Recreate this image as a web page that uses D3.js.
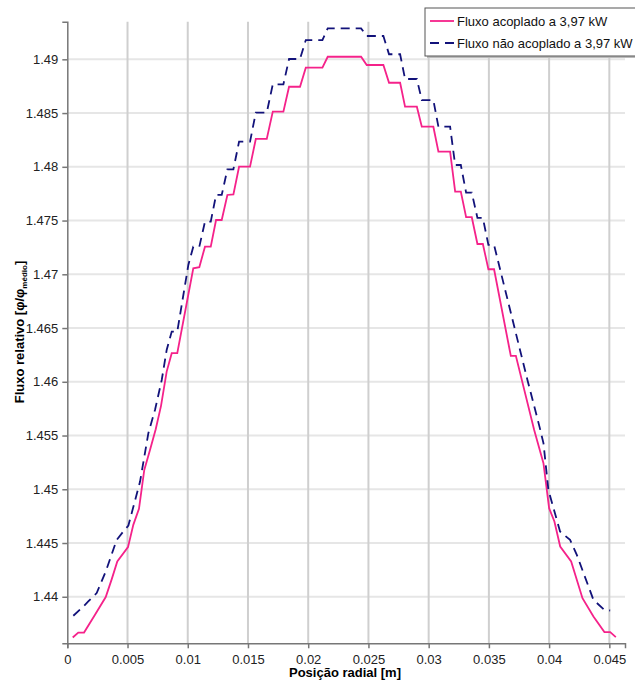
<!DOCTYPE html>
<html>
<head>
<meta charset="utf-8">
<script src="https://cdn.jsdelivr.net/npm/d3@7"></script>
<style>
  body { margin: 0; background: #fff; }
  svg { font-family: "Liberation Sans", Arial, sans-serif; }
</style>
</head>
<body>
<svg id="chart" width="635" height="680"></svg>
<script>
// posição radial [m] e fluxo relativo
var acopladoX = [0.00045, 0.00091, 0.00139, 0.00230, 0.00319, 0.00369, 0.00415, 0.00504, 0.00548, 0.00595,
  0.00639, 0.00687, 0.00734, 0.00778, 0.00825, 0.00867, 0.00913, 0.01046, 0.01096, 0.01143,
  0.01191, 0.01235, 0.01282, 0.01329, 0.01379, 0.01426, 0.01517, 0.01565, 0.01656, 0.01706,
  0.01794, 0.01841, 0.01932, 0.01980, 0.02118, 0.02162, 0.02439, 0.02486, 0.02624, 0.02671,
  0.02763, 0.02804, 0.02902, 0.02943, 0.03039, 0.03081, 0.03178, 0.03220, 0.03267, 0.03311,
  0.03358, 0.03405, 0.03450, 0.03496, 0.03543, 0.03682, 0.03724, 0.03876, 0.03953, 0.04000,
  0.04044, 0.04092, 0.04183, 0.04277, 0.04368, 0.04459, 0.04507, 0.04554]
var acopladoY = [1.43621, 1.43667, 1.43667, 1.43832, 1.43997, 1.44164, 1.44328, 1.44462, 1.44669, 1.44818,
  1.45180, 1.45367, 1.45559, 1.45776, 1.46095, 1.46266, 1.46266, 1.47056, 1.47066, 1.47257,
  1.47257, 1.47505, 1.47505, 1.47738, 1.47744, 1.48001, 1.48001, 1.48259, 1.48259, 1.48513,
  1.48513, 1.48745, 1.48745, 1.48922, 1.48922, 1.49024, 1.49024, 1.48947, 1.48947, 1.48782,
  1.48782, 1.48559, 1.48559, 1.48373, 1.48373, 1.48141, 1.48141, 1.47769, 1.47769, 1.47531,
  1.47531, 1.47282, 1.47282, 1.47047, 1.47047, 1.46241, 1.46241, 1.45552, 1.45243, 1.44824,
  1.44700, 1.44467, 1.44328, 1.43987, 1.43816, 1.43671, 1.43671, 1.43625]

var naoAcopladoX = [0.00050, 0.00133, 0.00174, 0.00244, 0.00319, 0.00410, 0.00465, 0.00507, 0.00604, 0.00673,
  0.00728, 0.00784, 0.00825, 0.00867, 0.00913, 0.01005, 0.01046, 0.01096, 0.01143, 0.01191,
  0.01235, 0.01282, 0.01329, 0.01379, 0.01426, 0.01517, 0.01565, 0.01656, 0.01706, 0.01794,
  0.01841, 0.01932, 0.01980, 0.02118, 0.02162, 0.02439, 0.02486, 0.02624, 0.02671, 0.02763,
  0.02804, 0.02902, 0.02943, 0.03039, 0.03081, 0.03178, 0.03220, 0.03267, 0.03311, 0.03358,
  0.03405, 0.03450, 0.03496, 0.03543, 0.03820, 0.03920, 0.03953, 0.03994, 0.04091, 0.04174,
  0.04230, 0.04368, 0.04459, 0.04507]
var naoAcopladoY = [1.43823, 1.43909, 1.43956, 1.44034, 1.44235, 1.44529, 1.44607, 1.44662, 1.45072, 1.45522,
  1.45738, 1.46017, 1.46296, 1.46467, 1.46467, 1.47087, 1.47257, 1.47257, 1.47490, 1.47490,
  1.47738, 1.47738, 1.47977, 1.47977, 1.48234, 1.48234, 1.48505, 1.48505, 1.48767, 1.48767,
  1.49003, 1.49003, 1.49179, 1.49179, 1.49288, 1.49288, 1.49217, 1.49217, 1.49047, 1.49047,
  1.48817, 1.48817, 1.48621, 1.48621, 1.48373, 1.48373, 1.48017, 1.48017, 1.47759, 1.47759,
  1.47524, 1.47524, 1.47273, 1.47273, 1.46017, 1.45583, 1.45429, 1.44994, 1.44607, 1.44529,
  1.44390, 1.43971, 1.43878, 1.43872]

var xTicks = [0, 0.005, 0.01, 0.015, 0.02, 0.025, 0.03, 0.035, 0.04, 0.045]
var yTicks = [1.44, 1.445, 1.45, 1.455, 1.46, 1.465, 1.47, 1.475, 1.48, 1.485, 1.49]
var seriesNames = ['Fluxo acoplado a 3,97 kW', 'Fluxo não acoplado a 3,97 kW']

var svg = d3.select('#chart')
var plotLeft = 67.3, plotRight = 625, plotTop = 21.7, plotBottom = 643.3

var x = d3.scaleLinear().domain([0, 0.0463]).range([plotLeft, plotRight])
var y = d3.scaleLinear().domain([1.43567, 1.4935]).range([plotBottom, plotTop])

var fmt = function (d) { return String(+d.toFixed(3)) }

// grade
svg.append('g').selectAll('line').data(yTicks).enter().append('line')
  .attr('x1', plotLeft).attr('x2', plotRight)
  .attr('y1', function (d) { return y(d) }).attr('y2', function (d) { return y(d) })
  .attr('stroke', '#e6e6e6').attr('stroke-width', 2)

svg.append('g').selectAll('line').data(xTicks.slice(1)).enter().append('line')
  .attr('x1', function (d) { return x(d) }).attr('x2', function (d) { return x(d) })
  .attr('y1', plotTop).attr('y2', plotBottom)
  .attr('stroke', '#cfcfcf').attr('stroke-width', 2)

// eixos
var xAxis = svg.append('g').attr('transform', 'translate(0,' + plotBottom + ')')
  .call(d3.axisBottom(x).tickValues(xTicks).tickFormat(fmt).tickSize(5).tickPadding(6))
var yAxis = svg.append('g').attr('transform', 'translate(' + plotLeft + ',0)')
  .call(d3.axisLeft(y).tickValues(yTicks).tickFormat(fmt).tickSize(5).tickPadding(4))

;[xAxis, yAxis].forEach(function (a) {
  a.select('.domain').attr('stroke', '#777').attr('stroke-width', 1.5)
  a.selectAll('.tick line').attr('stroke', '#777').attr('stroke-width', 1.5)
  a.selectAll('.tick text').attr('fill', '#222').style('font-size', '13px')
    .style('font-family', '"Liberation Sans", Arial, sans-serif')
})

// curvas
var line = d3.line()
  .x(function (d) { return x(d[0]) })
  .y(function (d) { return y(d[1]) })

svg.append('path')
  .datum(d3.zip(acopladoX, acopladoY))
  .attr('d', line)
  .attr('fill', 'none').attr('stroke', '#f5228a').attr('stroke-width', 1.8)

svg.append('path')
  .datum(d3.zip(naoAcopladoX, naoAcopladoY))
  .attr('d', line)
  .attr('fill', 'none').attr('stroke', '#12127a').attr('stroke-width', 1.8)
  .attr('stroke-dasharray', '9,6')

// títulos dos eixos
svg.append('text')
  .attr('x', 345).attr('y', 677)
  .attr('text-anchor', 'middle')
  .style('font-size', '13px').style('font-weight', 'bold')
  .text('Posição radial [m]')

var yl = svg.append('text')
  .attr('transform', 'translate(24,332) rotate(-90)')
  .attr('text-anchor', 'middle')
  .style('font-size', '13px').style('font-weight', 'bold')
yl.append('tspan').text('Fluxo relativo [φ/φ')
yl.append('tspan').attr('dy', 3).style('font-size', '8px').text('médio')
yl.append('tspan').attr('dy', -3).text(']')

// legenda
var lg = svg.append('g').attr('transform', 'translate(425,8)')
lg.append('rect').attr('x', 2).attr('y', 2).attr('width', 230).attr('height', 48)
  .attr('fill', '#bbb')
lg.append('rect').attr('x', 0).attr('y', 0).attr('width', 230).attr('height', 48)
  .attr('fill', '#fff').attr('stroke', '#555').attr('stroke-width', 1)

var items = lg.selectAll('.item').data(seriesNames).enter().append('g')
  .attr('transform', function (d, i) { return 'translate(0,' + (13 + i * 22) + ')' })
items.append('line')
  .attr('x1', 5).attr('x2', 29).attr('y1', 0).attr('y2', 0)
  .attr('stroke', function (d, i) { return i === 0 ? '#f5228a' : '#12127a' })
  .attr('stroke-width', 1.8)
  .attr('stroke-dasharray', function (d, i) { return i === 0 ? null : '9,6' })
items.append('text')
  .attr('x', 32).attr('y', 5)
  .style('font-size', '13px').attr('fill', '#111')
  .text(function (d) { return d })
</script>
</body>
</html>
